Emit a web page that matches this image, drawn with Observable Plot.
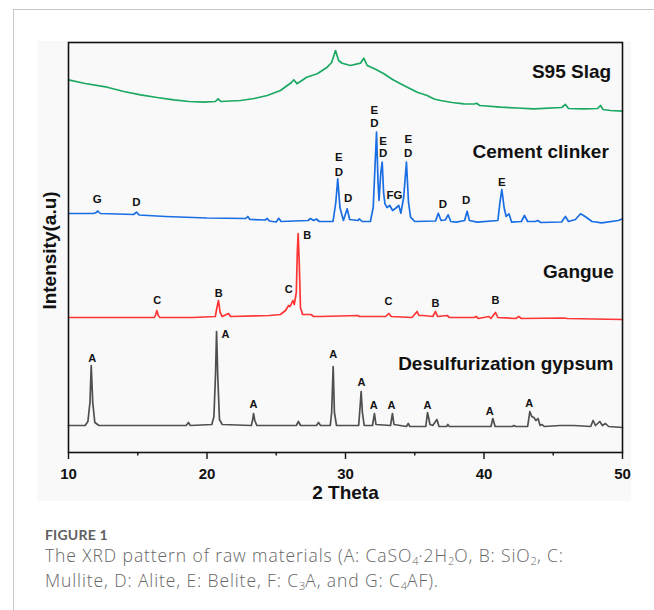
<!DOCTYPE html>
<html>
<head>
<meta charset="utf-8">
<script src="https://cdn.jsdelivr.net/npm/d3@7"></script>
<script src="https://cdn.jsdelivr.net/npm/@observablehq/plot@0.6"></script>
<style>
  html, body { margin: 0; padding: 0; background: #fff; }
  body { width: 654px; height: 610px; position: relative; overflow: hidden; font-family: "Liberation Sans", Arial, sans-serif; }
  #card { position: absolute; left: 13px; top: 9px; right: 0; bottom: 0; border-top: 1px solid #c8c8c8; border-left: 1px solid #c8c8c8; }
  #fig { position: absolute; left: 37px; top: 41px; width: 594px; height: 460px; background: #f9f9f9; }
  #fig svg { display: block; }
  #caption { position: absolute; left: 45px; top: 526px; font-family: "Open Sans", Lato, sans-serif; color: #666; }
  #caption .head { font-family: Lato, sans-serif; font-size: 14px; font-weight: 700; color: #606060; line-height: 17px; letter-spacing: 0.2px; }
  #caption .body { font-size: 17.5px; font-weight: 300; line-height: 25px; letter-spacing: 0.9px; white-space: nowrap; }
  #caption sub { font-size: 11px; vertical-align: -3px; line-height: 0; letter-spacing: 0; }
</style>
</head>
<body>
<div id="card"></div>
<div id="fig"></div>
<div id="caption">
  <div class="head">FIGURE 1</div>
  <div class="body">The XRD pattern of raw materials (A: CaSO<sub>4</sub>·2H<sub>2</sub>O, B: SiO<sub>2</sub>, C:<br>Mullite, D: Alite, E: Belite, F: C<sub>3</sub>A, and G: C<sub>4</sub>AF).</div>
</div>
<script>
// ---- Data: [2θ (degrees), intensity (a.u., stacked with offsets)] ----
const gypsum = [
  [10.0,27],[11.2,27],[11.4,31],[11.55,50],[11.64,87],[11.75,50],[11.9,30],[12.2,27],[14,27],[16,27],
  [18.5,27],[18.66,30],[18.8,27],[20.35,28],[20.5,36],[20.62,80],[20.69,121],[20.78,75],[20.9,33],[21.1,28],
  [23.2,27],[23.3,33],[23.36,39],[23.45,32],[23.6,27],[26.45,27],[26.6,31],[26.75,27],[27.9,27],[28.05,30],
  [28.2,27],[28.9,27],[29.0,40],[29.11,86],[29.2,40],[29.35,27],[30.95,27],[31.05,45],[31.13,61],[31.22,40],
  [31.35,27],[31.95,27],[32.09,39],[32.2,28],[33.25,27],[33.39,39],[33.5,28],[34.4,26],[34.53,29],[34.65,26],
  [35.8,26],[35.92,40],[36.0,35],[36.1,28],[36.3,27],[36.6,33],[36.75,26],[37.3,26],[37.39,28],[37.5,26],
  [40.5,26],[40.64,34],[40.8,26],[42.05,26],[42.16,27],[42.3,26],[43.15,26],[43.31,41],[43.45,36],[43.6,35],
  [43.75,32],[43.9,34],[44.05,27],[44.2,28],[44.35,26],[45.5,27],[46.5,27],[47.7,26],[47.88,32],[48.05,27],
  [48.36,31],[48.55,27],[48.77,29],[49.0,26],[50,25]
];
const gangue = [
  [10,135],[13,135],[16.2,135],[16.3,138],[16.38,142],[16.48,137],[16.6,135],[19,135],[20.6,136],[20.72,145],
  [20.83,152],[20.95,140],[21.1,136],[21.55,139],[21.7,136],[24.5,137],[25.3,138],[25.67,142],[25.8,145],[25.9,147],
  [26.0,146],[26.2,152],[26.3,148],[26.45,160],[26.52,200],[26.58,219],[26.66,190],[26.75,145],[26.9,138],[27.5,138],
  [27.7,136],[28.2,136],[30.9,137],[31.0,136],[32.9,136],[33.13,139],[33.3,136],[34.8,135],[35.17,141],[35.3,137],
  [35.6,137],[36.3,136],[36.5,141],[36.65,136],[37.34,137],[37.5,135],[39.3,135],[39.43,136],[39.6,134],[40.35,136],
  [40.5,134],[40.83,140],[41.0,135],[42.3,134],[42.51,136],[42.7,134],[45.76,134.5],[46,134],[50,133]
];
const clinker = [
  [10,239],[11.8,239],[12.0,240],[12.12,241.5],[12.3,239],[14.7,238],[14.91,240.3],[15.1,237.5],[17,236],[20,234.5],
  [22.8,234],[22.95,236],[23.1,233],[24.2,232.5],[24.35,234],[24.5,231.5],[25.0,230.5],[25.18,234.3],[25.35,231],[27.3,232],
  [27.47,234],[27.7,232],[27.9,233.5],[28.1,231],[29.1,231],[29.3,250],[29.44,273.7],[29.6,245],[29.85,232],[30.12,243.7],
  [30.3,233],[30.9,232],[31.0,233.7],[31.2,231],[31.8,231],[32.0,245],[32.24,320.3],[32.35,270],[32.42,252],[32.55,280],
  [32.65,290.3],[32.75,260],[32.85,248.7],[33.0,245],[33.2,247],[33.4,242],[33.6,244],[33.85,247],[34.0,239.3],[34.2,255],
  [34.4,290.3],[34.55,250],[34.7,235.3],[35.0,231],[36.5,231.5],[36.7,239.3],[36.9,232],[37.2,232.5],[37.41,237.7],[37.6,231],
  [38.0,230.3],[38.6,232],[38.78,241.3],[38.95,232],[39.5,230.3],[41.0,232],[41.15,250],[41.29,263],[41.45,245],[41.6,236],
  [41.8,238.7],[42.0,230.3],[42.7,231],[42.92,237],[43.15,231],[43.7,231],[43.88,232],[44.1,230],[45.6,230.5],[45.88,236],
  [46.1,231],[46.6,233],[46.97,238.7],[47.3,236],[47.8,231],[48.5,229.7],[49.7,232],[50,233.7]
];
const slag = [
  [10,372.7],[11.2,369],[12.79,365.3],[14,361],[15.2,357.7],[16.4,355],[17.6,352.7],[18.7,351],[19.77,350.3],[20.6,351],
  [20.8,353.7],[21.0,351],[22.42,352],[23.4,354],[24.35,357],[25.3,362],[25.9,368],[26.1,370],[26.27,372.7],[26.5,368.7],
  [27.2,375.3],[27.96,378.7],[28.68,385.3],[29.0,390],[29.28,402],[29.5,392],[29.76,389.3],[30.36,387],[31.08,389.3],[31.32,394.3],
  [31.57,387],[32.2,383],[32.77,378.7],[33.4,373],[33.97,368.7],[35.18,360.3],[35.9,357],[36.14,355.3],[36.4,353.5],[36.86,352],
  [37.7,350],[38.54,348.7],[39.3,348.5],[39.46,349.3],[39.7,347],[41.19,345.3],[42.4,344.5],[43.6,343.7],[45.6,345],[45.88,348],
  [46.1,344],[47.2,343.7],[48.2,344],[48.41,347],[48.6,343],[49.13,342],[50,341.3]
];
// Phase labels: [text, 2θ, intensity]
const gypsumPeakLabels = [
  ["A",11.71,94.3],["A",21.34,118],["A",23.36,48],["A",29.11,98],["A",31.16,70],
  ["A",32.04,47],["A",33.32,47],["A",35.92,47],["A",40.42,41.3],["A",43.26,49.3]
];
const ganguePeakLabels = [
  ["C",16.4,152],["B",20.85,158.7],["C",25.9,162.7],["B",27.23,217],["C",33.1,151],["B",36.5,148.7],["B",40.83,151.7]
];
const clinkerPeakLabels = [
  ["G",12.07,252.7],["D",14.91,249.7],["E",29.52,294.7],["D",29.52,280.3],["D",30.19,254],
  ["E",32.09,342.5],["D",32.09,329.5],["E",32.72,311.5],["D",32.72,299],["FG",33.54,257],
  ["E",34.53,312.7],["D",34.53,298.7],["D",37.03,247.7],["D",38.71,252],["E",41.29,270.3]
];
// Sample names: [text, right edge 2θ, intensity]
const sampleNames = [
  ["S95 Slag",49.18,380.3],["Cement clinker",49.01,300.3],["Gangue",49.37,180.3],["Desulfurization gypsum",49.35,89]
];
const xMajorTicks = [10, 20, 30, 40, 50];
const xMinorTicks = [15, 25, 35, 45];
const xLabel = "2 Theta";
const yLabel = "Intensity(a.u)";

const FONT = "Liberation Sans, Arial, Helvetica, sans-serif";
const lineOpts = (color) => ({x: d => d[0], y: d => d[1], stroke: color, strokeWidth: 1.7, strokeLinejoin: "round"});
const labelOpts = (size) => ({x: d => d[1], y: d => d[2], text: d => d[0], fontSize: size, fontWeight: "bold", fill: "#111", textAnchor: "middle", lineAnchor: "middle"});

const chart = Plot.plot({
  width: 594,
  height: 460,
  marginLeft: 31,
  marginRight: 9,
  marginTop: 1,
  marginBottom: 49,
  style: {fontFamily: FONT, background: "transparent", color: "#111", overflow: "visible"},
  x: {domain: [10, 50]},
  y: {domain: [0, 410], axis: null},
  marks: [
    Plot.line(gypsum, lineOpts("#4f4f4f")),
    Plot.line(gangue, lineOpts("#ff3535")),
    Plot.line(clinker, lineOpts("#1a6ee3")),
    Plot.line(slag, lineOpts("#1aa862")),
    Plot.text(gypsumPeakLabels, labelOpts(11)),
    Plot.text(ganguePeakLabels, labelOpts(11)),
    Plot.text(clinkerPeakLabels, labelOpts(11.5)),
    Plot.text(sampleNames, {x: d => d[1], y: d => d[2], text: d => d[0], fontSize: 19, fontWeight: "bold", fill: "#111", textAnchor: "end", lineAnchor: "middle"}),
    Plot.frame({stroke: "#111", strokeWidth: 1.6}),
    Plot.axisX({ticks: xMinorTicks, tickSize: 3.5, text: null, label: null, stroke: "#111", strokeWidth: 1.4}),
    Plot.axisX({ticks: xMajorTicks, tickSize: 7, tickPadding: 9, tickFormat: d => String(d), label: null, fontSize: 15, fontWeight: "bold", fill: "#111", stroke: "#111", strokeWidth: 1.4}),
    Plot.text([xLabel], {x: 30, frameAnchor: "bottom", dy: 40, text: d => d, fontSize: 19, fontWeight: "bold", fill: "#111", lineAnchor: "middle"}),
    Plot.text([yLabel], {frameAnchor: "left", dx: -19, dy: 3, rotate: -90, text: d => d, fontSize: 19, fontWeight: "bold", fill: "#111", textAnchor: "middle", lineAnchor: "middle"})
  ]
});
document.getElementById("fig").appendChild(chart);
</script>
</body>
</html>
